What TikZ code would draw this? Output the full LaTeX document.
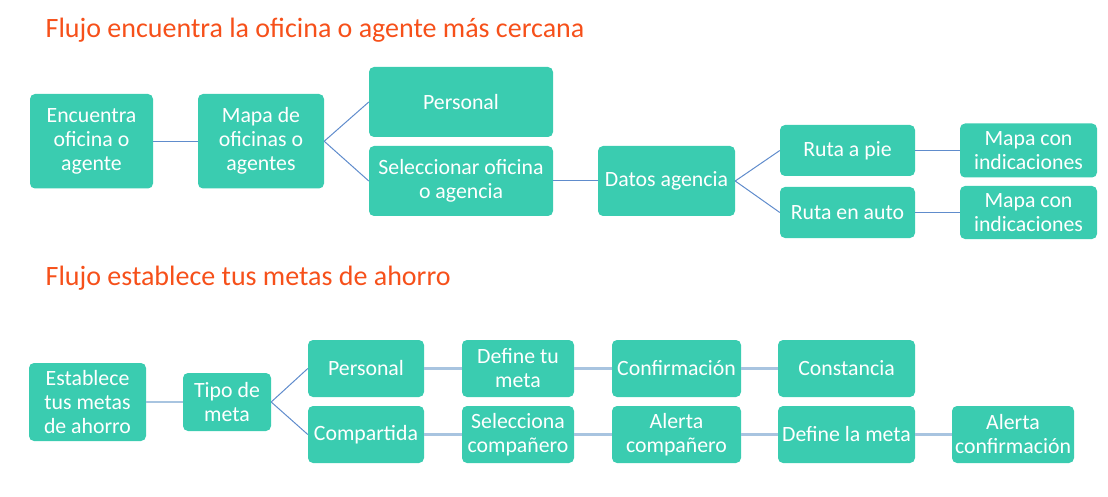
\documentclass[tikz,border=0pt]{standalone}
\usepackage{fontspec}
\setmainfont{Carlito}
\usepackage{xcolor}
\usepackage{tikz}
\definecolor{flowTeal}{RGB}{58,204,176}
\definecolor{flowOrange}{RGB}{246,80,26}
\definecolor{linkBlue}{RGB}{96,140,204}
\definecolor{linkPale}{RGB}{168,196,224}
\usetikzlibrary{positioning}
\tikzstyle{flowbox} = [fill=flowTeal, rectangle, rounded corners=5pt, text=white, align=center, inner sep=0pt, font=\fontsize{21.8}{24}\selectfont]
\tikzstyle{heading} = [anchor=base west, inner sep=0pt, text=flowOrange, font=\fontsize{28}{32}\selectfont]
\tikzstyle{link} = [draw=linkBlue, line width=1pt]
\tikzstyle{paleLink} = [draw=linkPale, line width=2.6pt]

\begin{document}
\begin{tikzpicture}[x=1pt, y=-1pt]
        \useasboundingbox (0,0) rectangle (1108,497);
        % First flow: find the nearest office or agent
        \node [heading] (titleFind) at (45.5,37.3) {Flujo encuentra la oficina o agente más cercana};
        \node [flowbox, minimum width=123pt, minimum height=94.5pt] (findOffice) at (91.5,141.25) {Encuentra\\oficina o\\agente};
        \node [flowbox, right of=findOffice, node distance=169.5pt, minimum width=126pt, minimum height=94.5pt] (officeMap) {Mapa de\\oficinas o\\agentes};
        \node [flowbox, right of=officeMap, node distance=200pt, yshift=39.25pt, minimum width=184pt, minimum height=70pt] (personalA) {Personal};
        \node [flowbox, right of=officeMap, node distance=200pt, yshift=-39.75pt, minimum width=184pt, minimum height=70pt] (selectOffice) {Seleccionar oficina\\o agencia};
        \node [flowbox, right of=selectOffice, node distance=205.5pt, minimum width=137pt, minimum height=70pt] (agencyData) {Datos agencia};
        \node [flowbox, right of=agencyData, node distance=181pt, yshift=30.5pt, minimum width=135pt, minimum height=51pt] (walkRoute) {Ruta a pie};
        \node [flowbox, right of=agencyData, node distance=181pt, yshift=-31.5pt, minimum width=135pt, minimum height=51pt] (carRoute) {Ruta en auto};
        \node [flowbox, right of=walkRoute, node distance=181pt, minimum width=137pt, minimum height=54pt] (walkMap) {Mapa con\\indicaciones};
        \node [flowbox, right of=carRoute, node distance=181pt, minimum width=137pt, minimum height=53pt] (carMap) {Mapa con\\indicaciones};

        % Second flow: set your savings goals
        \node [heading] (titleGoals) at (45.5,285) {Flujo establece tus metas de ahorro};
        \node [flowbox, minimum width=117pt, minimum height=78pt] (setGoals) at (87.5,402) {Establece\\tus metas\\de ahorro};
        \node [flowbox, right of=setGoals, node distance=139.5pt, minimum width=88pt, minimum height=58pt] (goalType) {Tipo de\\meta};
        \node [flowbox, right of=goalType, node distance=139pt, yshift=33.5pt, minimum width=116pt, minimum height=57pt] (personalB) {Personal};
        \node [flowbox, right of=goalType, node distance=139pt, yshift=-32.5pt, minimum width=116pt, minimum height=57pt] (shared) {Compartida};
        \node [flowbox, right of=personalB, node distance=152pt, minimum width=112pt, minimum height=57pt] (defineGoal) {Define tu\\meta};
        \node [flowbox, right of=shared, node distance=152pt, minimum width=112pt, minimum height=57pt] (selectPartner) {Selecciona\\compañero};
        \node [flowbox, right of=defineGoal, node distance=158.5pt, minimum width=129pt, minimum height=57pt] (confirmation) {Confirmación};
        \node [flowbox, right of=selectPartner, node distance=158.5pt, minimum width=129pt, minimum height=57pt] (partnerAlert) {Alerta\\compañero};
        \node [flowbox, right of=confirmation, node distance=170pt, minimum width=137pt, minimum height=57pt] (receipt) {Constancia};
        \node [flowbox, right of=partnerAlert, node distance=170pt, minimum width=137pt, minimum height=57pt] (defineTarget) {Define la meta};
        \node [flowbox, right of=defineTarget, node distance=166.5pt, minimum width=122pt, minimum height=57pt] (confirmAlert) {Alerta\\confirmación};

        % Connectors of the first flow
        \draw [link] (findOffice) -- (officeMap);
        \draw [link] (officeMap.east) -- (personalA.west);
        \draw [link] (officeMap.east) -- (selectOffice.west);
        \draw [link] (selectOffice) -- (agencyData);
        \draw [link] (agencyData.east) -- (walkRoute.west);
        \draw [link] (agencyData.east) -- (carRoute.west);
        \draw [link] (walkRoute) -- (walkMap);
        \draw [link] (carRoute) -- (carMap);

        % Connectors of the second flow
        \draw [paleLink] (setGoals) -- (goalType);
        \draw [link] (goalType.east) -- (personalB.west);
        \draw [link] (goalType.east) -- (shared.west);
        \draw [paleLink] (personalB) -- (defineGoal);
        \draw [paleLink] (defineGoal) -- (confirmation);
        \draw [paleLink] (confirmation) -- (receipt);
        \draw [paleLink] (shared) -- (selectPartner);
        \draw [paleLink] (selectPartner) -- (partnerAlert);
        \draw [paleLink] (partnerAlert) -- (defineTarget);
        \draw [paleLink] (defineTarget) -- (confirmAlert);
    \end{tikzpicture}
\end{document}
